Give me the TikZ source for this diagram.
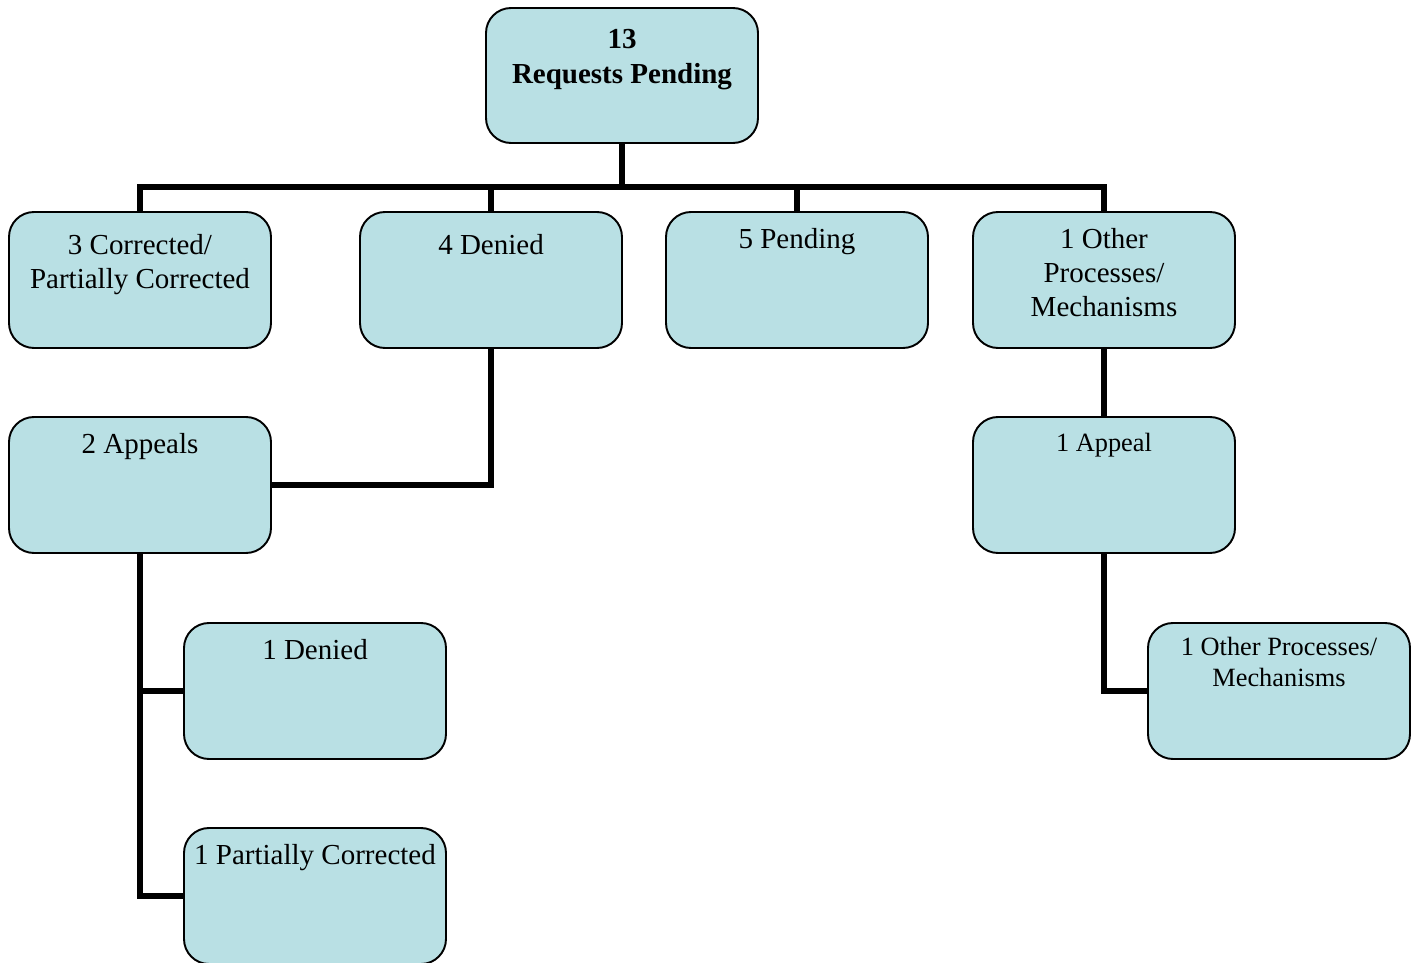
\documentclass[tikz,border=0pt]{standalone}
\usepackage{fontspec}
\setmainfont{Liberation Serif}
\usetikzlibrary{positioning}
\definecolor{boxfill}{RGB}{185,224,228}
\begin{document}
\begin{tikzpicture}[
  box/.style={draw, line width=1.1pt, rounded corners=0.5cm, fill=boxfill,
    minimum width=5.24cm, minimum height=2.72cm, inner sep=0pt},
  txt/.style={anchor=north, align=center, inner sep=0pt, font=\fontsize{16.5}{19.5}\selectfont},
  smalltxt/.style={txt, font=\fontsize{15}{17.6}\selectfont},
  link/.style={line width=2.9pt}]
\useasboundingbox (0,0) rectangle (28.36,-19.26);

\node[box, minimum width=5.44cm, minimum height=2.70cm] (req) at (12.44,-1.51) {};
\node[txt, font=\bfseries\fontsize{16.5}{19.8}\selectfont, below=0.44cm of req.north] (reqt) {13\\Requests Pending};

\node[box] (corr) at (2.80,-5.60) {};
\node[txt, below=0.45cm of corr.north] (corrt) {3 Corrected/\\Partially Corrected};
\node[box] (denied) at (9.82,-5.60) {};
\node[txt, below=0.45cm of denied.north] (deniedt) {4 Denied};
\node[box] (pend) at (15.94,-5.60) {};
\node[txt, below=0.33cm of pend.north] (pendt) {5 Pending};
\node[box] (other) at (22.08,-5.60) {};
\node[txt, below=0.33cm of other.north] (othert) {1 Other\\Processes/\\Mechanisms};

\node[box] (appeals) at (2.80,-9.70) {};
\node[txt, below=0.33cm of appeals.north] (appealst) {2 Appeals};
\node[box] (appeal) at (22.08,-9.70) {};
\node[smalltxt, below=0.33cm of appeal.north] (appealt) {1 Appeal};

\node[box] (denied2) at (6.30,-13.82) {};
\node[txt, below=0.33cm of denied2.north] (denied2t) {1 Denied};
\node[box] (partial) at (6.30,-17.92) {};
\node[txt, below=0.33cm of partial.north] (partialt) {1 Partially Corrected};
\node[box] (other2) at (25.58,-13.82) {};
\node[smalltxt, below=0.30cm of other2.north] (other2t) {1 Other Processes/\\Mechanisms};

% connectors
\coordinate (bus) at (12.44,-3.74);
\draw[link] (req.south) -- (bus);
\draw[link] (corr.north) |- (bus) -| (other.north);
\draw[link] (denied.north) -- (denied.north |- bus);
\draw[link] (pend.north) -- (pend.north |- bus);
\draw[link] (denied.south) |- (appeals.east);
\draw[link] (appeals.south) |- (partial.west);
\draw[link] (appeals.south |- denied2.west) -- (denied2.west);
\draw[link] (other.south) -- (appeal.north);
\draw[link] (appeal.south) |- (other2.west);
\end{tikzpicture}
\end{document}
